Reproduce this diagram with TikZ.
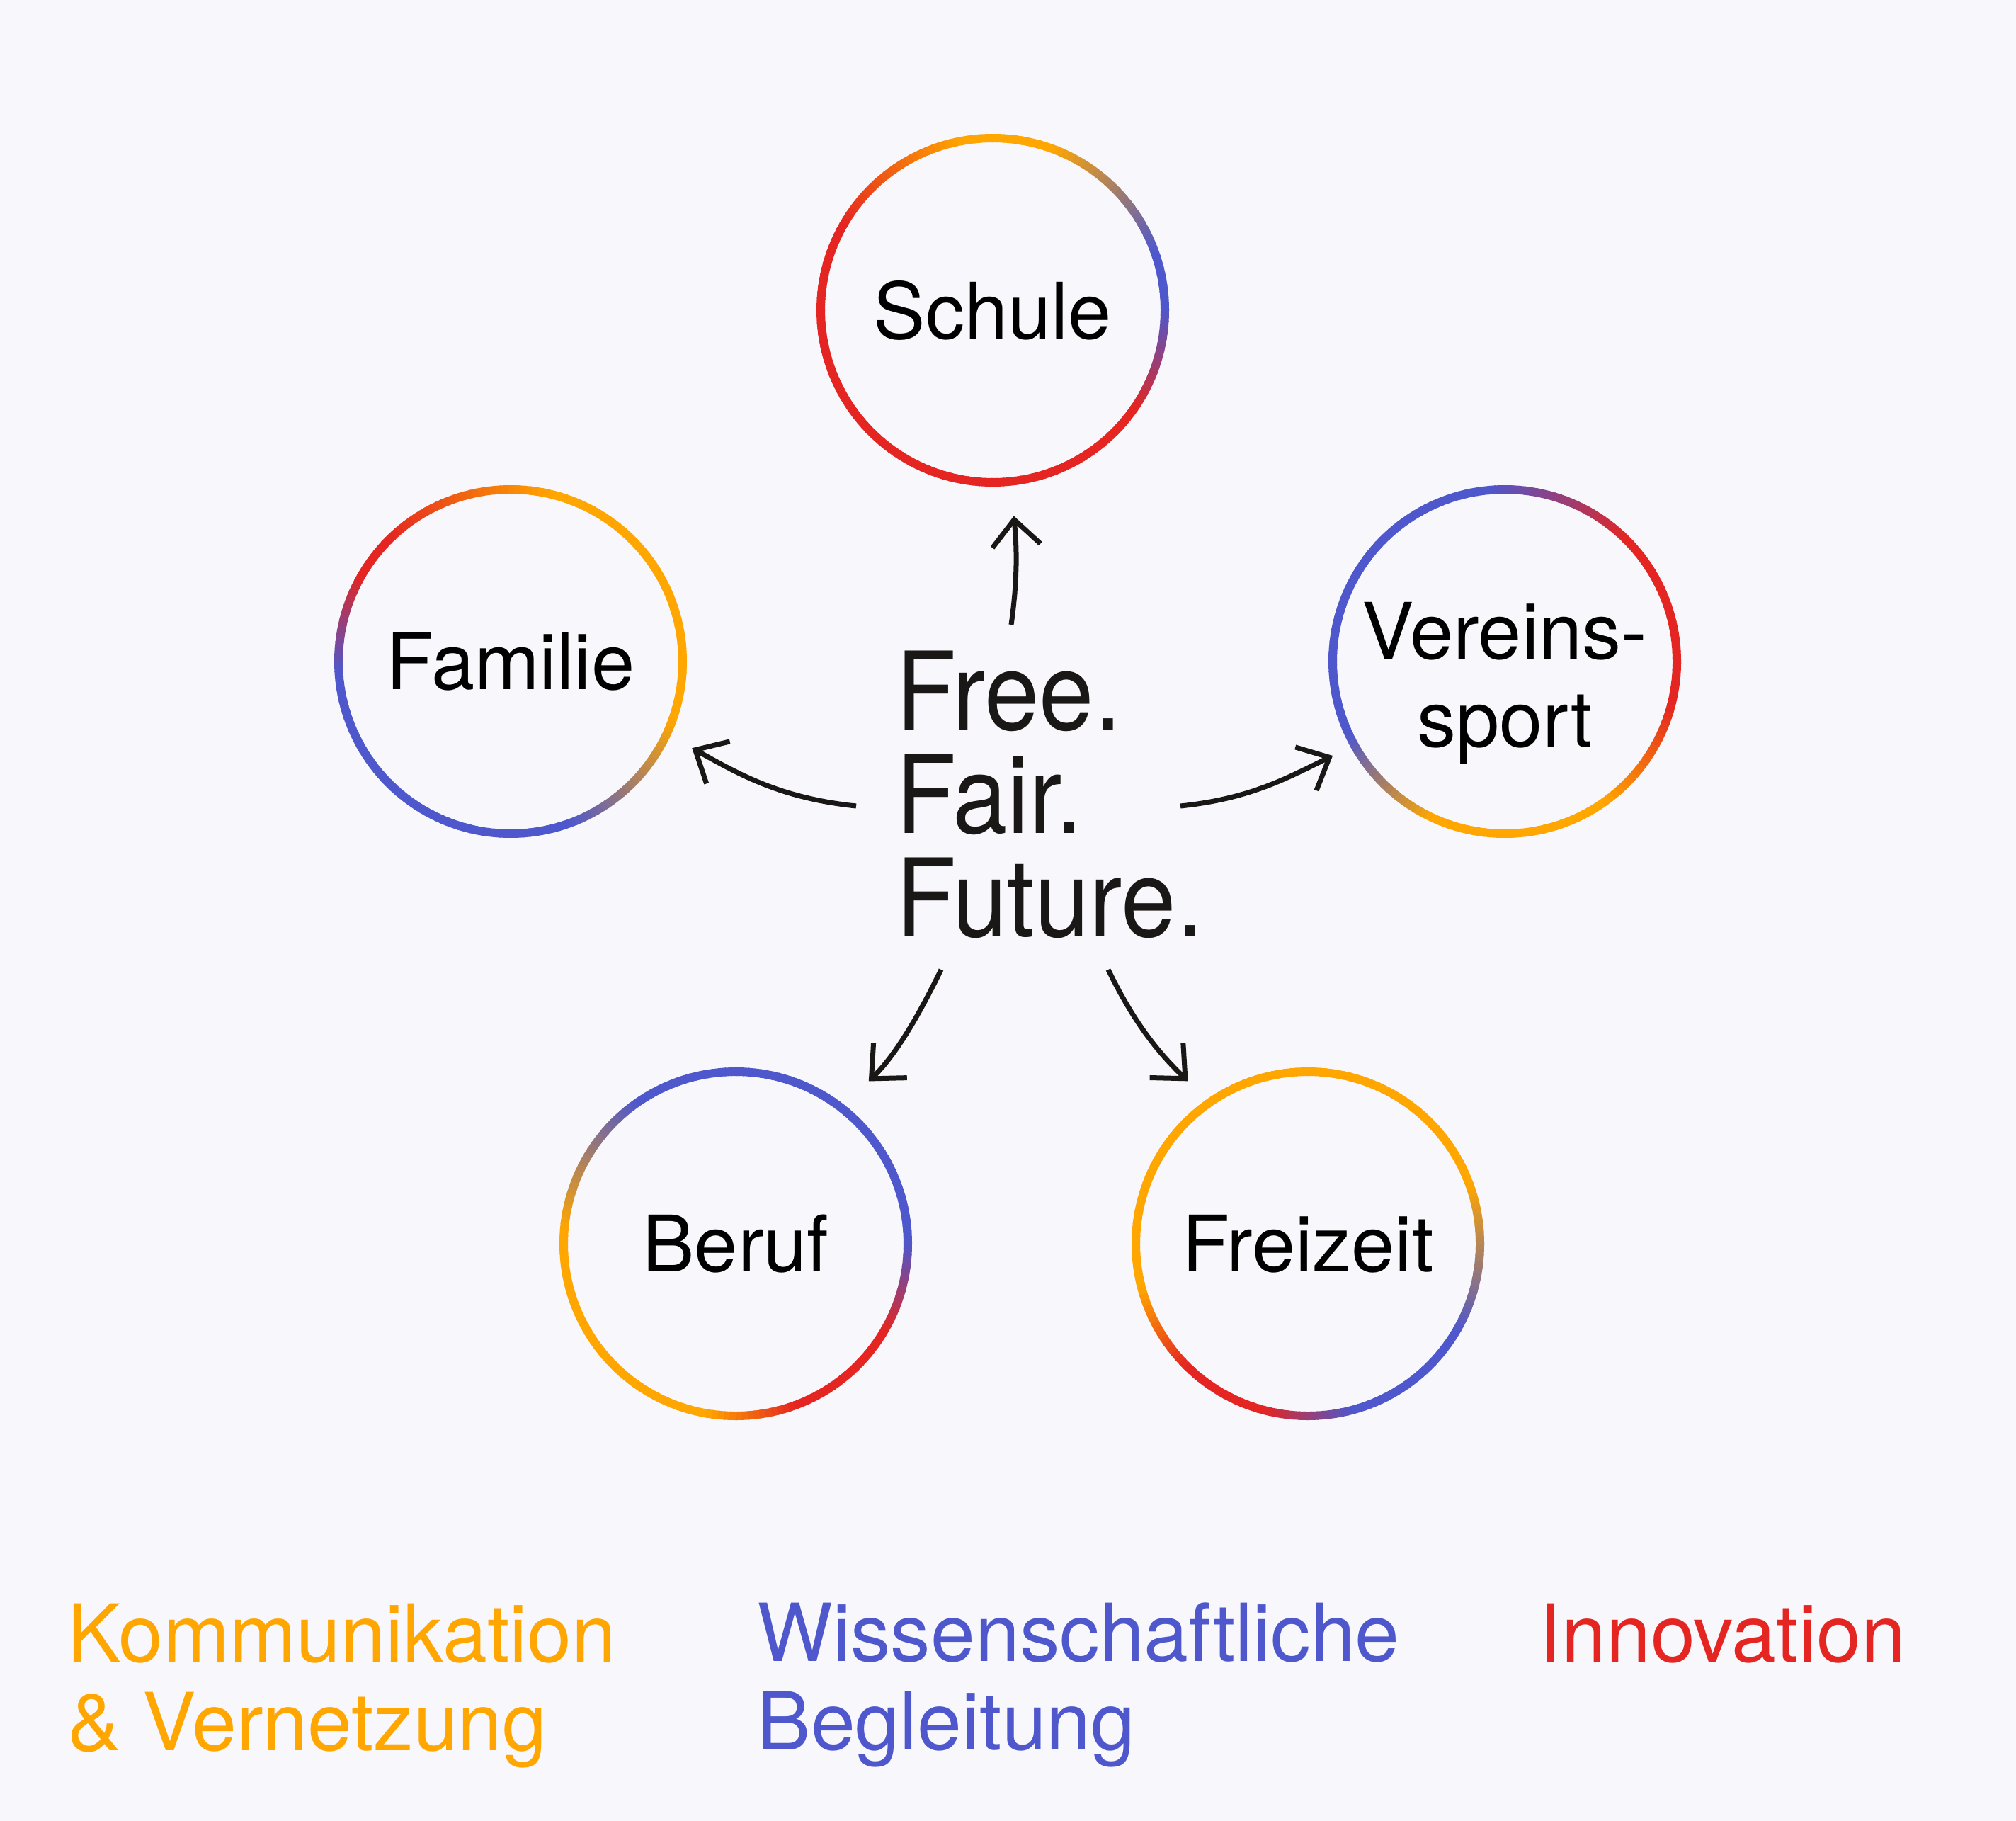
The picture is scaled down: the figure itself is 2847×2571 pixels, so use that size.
\documentclass[tikz,border=0pt]{standalone}
\usepackage{fontspec}
\setmainfont{TeX Gyre Heros}
\newfontfamily\mottofont[FakeStretch=0.91]{TeX Gyre Heros}
\usetikzlibrary{arrows.meta,calc}

\definecolor{bgcol}{HTML}{F7F7FC}
\definecolor{korange}{HTML}{FFA600}
\definecolor{kblue}{HTML}{4E57CC}
\definecolor{kred}{HTML}{E42521}
\definecolor{inkcol}{HTML}{1A1816}

% ring segment: node, from angle, to angle, colour at start, colour at end
\newcommand{\gradarc}[5]{%
  \pgfmathtruncatemacro\nsteps{max(1,round(abs(#3-#2)/2))}
  \foreach \seg in {1,...,\nsteps}{
    \pgfmathsetmacro\arcfrom{#2+(#3-#2)*(\seg-1)/\nsteps}
    \pgfmathsetmacro\arcto{#2+(#3-#2)*\seg/\nsteps+0.5}
    \pgfmathtruncatemacro\mixpct{100*(\seg-0.5)/\nsteps}
    \draw[ringline, draw=#5!\mixpct!#4] ([shift={(\arcfrom:243pt)}]#1.center)
      arc[start angle=\arcfrom, end angle=\arcto, radius=243pt];
  }
}

\begin{document}
\begin{tikzpicture}[
    x=1pt, y=1pt,
    ring/.style={circle, minimum size=498pt, inner sep=0pt, outer sep=0pt,
        font=\fontsize{110}{124}\selectfont, text=black, align=center},
    ringlabel/.style={inner sep=0pt, font=\fontsize{110}{124}\selectfont,
        text=black, align=center},
    ringline/.style={line width=12pt, line cap=butt},
    motto/.style={inner sep=0pt, font=\mottofont\fontsize{153}{145.7}\selectfont,
        text=inkcol, align=left, anchor=north west},
    legend/.style={inner sep=0pt, font=\fontsize{113}{125}\selectfont,
        align=left, anchor=north west},
    arrowline/.style={draw=inkcol, line width=7pt,
        -{Straight Barb[length=37pt, width=68pt]}}
    ]

    \fill[bgcol] (0,0) rectangle (2847,-2571);
    \useasboundingbox (0,0) rectangle (2847,-2571);

    \node[ring] (schule) at (1402,-438) {Schule};
    \node[ring] (familie) at (721,-934) {Familie};
    \node[ring] (vereins) at (2125,-934) {};
    \node[ringlabel] (vereins-text) at ([yshift=-30pt]vereins.center) {Vereins-\\sport};
    \node[ring] (beruf) at (1039,-1756) {Beruf};
    \node[ring] (freizeit) at (1847,-1756) {Freizeit};

    % gradient rings
    \gradarc{schule}{-35}{0}{kred}{kblue}
    \gradarc{schule}{0}{20}{kblue}{kblue}
    \gradarc{schule}{20}{70}{kblue}{korange}
    \gradarc{schule}{70}{100}{korange}{korange}
    \gradarc{schule}{100}{150}{korange}{kred}
    \gradarc{schule}{150}{325}{kred}{kred}

    \gradarc{familie}{0}{75}{korange}{korange}
    \gradarc{familie}{75}{135}{korange}{kred}
    \gradarc{familie}{135}{150}{kred}{kred}
    \gradarc{familie}{150}{183}{kred}{kblue}
    \gradarc{familie}{183}{290}{kblue}{kblue}
    \gradarc{familie}{290}{340}{kblue}{korange}
    \gradarc{familie}{340}{360}{korange}{korange}

    \gradarc{vereins}{-15}{45}{kred}{kred}
    \gradarc{vereins}{45}{95}{kred}{kblue}
    \gradarc{vereins}{95}{205}{kblue}{kblue}
    \gradarc{vereins}{205}{245}{kblue}{korange}
    \gradarc{vereins}{245}{305}{korange}{korange}
    \gradarc{vereins}{305}{345}{korange}{kred}

    \gradarc{beruf}{0}{125}{kblue}{kblue}
    \gradarc{beruf}{125}{175}{kblue}{korange}
    \gradarc{beruf}{175}{260}{korange}{korange}
    \gradarc{beruf}{260}{290}{korange}{kred}
    \gradarc{beruf}{290}{330}{kred}{kred}
    \gradarc{beruf}{330}{360}{kred}{kblue}

    \gradarc{freizeit}{20}{195}{korange}{korange}
    \gradarc{freizeit}{195}{225}{korange}{kred}
    \gradarc{freizeit}{225}{255}{kred}{kred}
    \gradarc{freizeit}{255}{285}{kred}{kblue}
    \gradarc{freizeit}{285}{330}{kblue}{kblue}
    \gradarc{freizeit}{330}{380}{kblue}{korange}

    \node[motto] (motto) at (1265,-919) {Free.\\Fair.\\Future.};

    \coordinate (from-up) at (1428,-882);
    \coordinate (from-left) at (1209,-1138);
    \coordinate (from-right) at (1667,-1138);
    \coordinate (from-dl) at (1329,-1369);
    \coordinate (from-dr) at (1565,-1369);

    \draw[arrowline, shorten >=43pt] (from-up) to[out=82,in=-85] (schule.-84);
    \draw[arrowline, shorten >=35pt] (from-left) to[out=174,in=-29] (familie.-25);
    \draw[arrowline, shorten >=28pt] (from-right) to[out=6,in=-154] (vereins.209);
    \draw[arrowline, shorten >=48pt] (from-dl) to[out=-116,in=44] (beruf.52);
    \draw[arrowline, shorten >=37pt] (from-dr) to[out=-64,in=136] (freizeit.125);

    \node[legend, text=korange] (kommunikation) at (95,-2264) {Kommunikation\\\& Vernetzung};
    \node[legend, text=kblue] (begleitung) at (1069.5,-2262.7) {Wissenschaftliche\\Begleitung};
    \node[legend, text=kred] (innovation) at (2173.7,-2264) {Innovation};

\end{tikzpicture}
\end{document}
